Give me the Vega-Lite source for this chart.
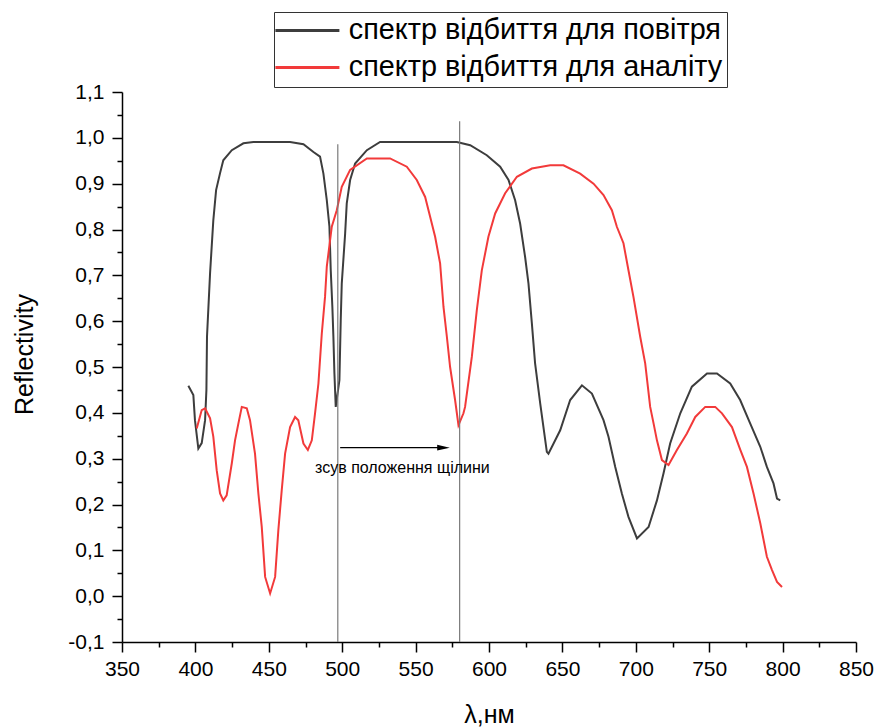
{
  "$schema": "https://vega.github.io/schema/vega-lite/v6.json",
  "width": 734,
  "height": 550,
  "autosize": {"type": "none"},
  "padding": {"left": 122, "top": 92, "right": 21, "bottom": 85},
  "background": "white",
  "config": {
    "font": "Liberation Sans",
    "view": {"stroke": null},
    "axis": {
      "grid": false,
      "domainColor": "#000000",
      "domainWidth": 1.5,
      "tickColor": "#000000",
      "tickWidth": 1.5,
      "labelColor": "#000000",
      "titleColor": "#000000",
      "labelFont": "Liberation Sans",
      "titleFont": "Liberation Sans"
    }
  },
  "datasets": {
    "spectra": [
      {"wl": 395.2, "r": 0.459, "series": "спектр відбиття для повітря"},
      {"wl": 398.6, "r": 0.439, "series": "спектр відбиття для повітря"},
      {"wl": 399.7, "r": 0.384, "series": "спектр відбиття для повітря"},
      {"wl": 402.0, "r": 0.322, "series": "спектр відбиття для повітря"},
      {"wl": 404.3, "r": 0.334, "series": "спектр відбиття для повітря"},
      {"wl": 406.6, "r": 0.384, "series": "спектр відбиття для повітря"},
      {"wl": 407.5, "r": 0.45, "series": "спектр відбиття для повітря"},
      {"wl": 407.9, "r": 0.566, "series": "спектр відбиття для повітря"},
      {"wl": 410.0, "r": 0.705, "series": "спектр відбиття для повітря"},
      {"wl": 412.2, "r": 0.82, "series": "спектр відбиття для повітря"},
      {"wl": 414.1, "r": 0.886, "series": "спектр відбиття для повітря"},
      {"wl": 416.8, "r": 0.923, "series": "спектр відбиття для повітря"},
      {"wl": 419.0, "r": 0.951, "series": "спектр відбиття для повітря"},
      {"wl": 424.8, "r": 0.973, "series": "спектр відбиття для повітря"},
      {"wl": 432.7, "r": 0.988, "series": "спектр відбиття для повітря"},
      {"wl": 439.5, "r": 0.991, "series": "спектр відбиття для повітря"},
      {"wl": 464.5, "r": 0.991, "series": "спектр відбиття для повітря"},
      {"wl": 473.6, "r": 0.986, "series": "спектр відбиття для повітря"},
      {"wl": 480.4, "r": 0.969, "series": "спектр відбиття для повітря"},
      {"wl": 484.9, "r": 0.959, "series": "спектр відбиття для повітря"},
      {"wl": 487.2, "r": 0.922, "series": "спектр відбиття для повітря"},
      {"wl": 489.5, "r": 0.864, "series": "спектр відбиття для повітря"},
      {"wl": 491.3, "r": 0.806, "series": "спектр відбиття для повітря"},
      {"wl": 492.2, "r": 0.711, "series": "спектр відбиття для повітря"},
      {"wl": 493.3, "r": 0.631, "series": "спектр відбиття для повітря"},
      {"wl": 494.0, "r": 0.566, "series": "спектр відбиття для повітря"},
      {"wl": 494.7, "r": 0.486, "series": "спектр відбиття для повітря"},
      {"wl": 495.6, "r": 0.413, "series": "спектр відбиття для повітря"},
      {"wl": 498.1, "r": 0.471, "series": "спектр відбиття для повітря"},
      {"wl": 499.0, "r": 0.602, "series": "спектр відбиття для повітря"},
      {"wl": 499.7, "r": 0.682, "series": "спектр відбиття для повітря"},
      {"wl": 502.0, "r": 0.791, "series": "спектр відбиття для повітря"},
      {"wl": 503.1, "r": 0.857, "series": "спектр відбиття для повітря"},
      {"wl": 505.4, "r": 0.908, "series": "спектр відбиття для повітря"},
      {"wl": 508.8, "r": 0.944, "series": "спектр відбиття для повітря"},
      {"wl": 516.8, "r": 0.973, "series": "спектр відбиття для повітря"},
      {"wl": 525.8, "r": 0.991, "series": "спектр відбиття для повітря"},
      {"wl": 578.1, "r": 0.991, "series": "спектр відбиття для повітря"},
      {"wl": 587.2, "r": 0.984, "series": "спектр відбиття для повітря"},
      {"wl": 598.5, "r": 0.962, "series": "спектр відбиття для повітря"},
      {"wl": 607.6, "r": 0.937, "series": "спектр відбиття для повітря"},
      {"wl": 613.3, "r": 0.908, "series": "спектр відбиття для повітря"},
      {"wl": 617.8, "r": 0.864, "series": "спектр відбиття для повітря"},
      {"wl": 621.2, "r": 0.813, "series": "спектр відбиття для повітря"},
      {"wl": 624.6, "r": 0.74, "series": "спектр відбиття для повітря"},
      {"wl": 626.9, "r": 0.682, "series": "спектр відбиття для повітря"},
      {"wl": 629.2, "r": 0.595, "series": "спектр відбиття для повітря"},
      {"wl": 631.4, "r": 0.508, "series": "спектр відбиття для повітря"},
      {"wl": 634.9, "r": 0.42, "series": "спектр відбиття для повітря"},
      {"wl": 639.4, "r": 0.315, "series": "спектр відбиття для повітря"},
      {"wl": 640.5, "r": 0.311, "series": "спектр відбиття для повітря"},
      {"wl": 648.5, "r": 0.362, "series": "спектр відбиття для повітря"},
      {"wl": 655.3, "r": 0.428, "series": "спектр відбиття для повітря"},
      {"wl": 663.3, "r": 0.46, "series": "спектр відбиття для повітря"},
      {"wl": 670.1, "r": 0.442, "series": "спектр відбиття для повітря"},
      {"wl": 678.0, "r": 0.384, "series": "спектр відбиття для повітря"},
      {"wl": 681.4, "r": 0.348, "series": "спектр відбиття для повітря"},
      {"wl": 686.0, "r": 0.282, "series": "спектр відбиття для повітря"},
      {"wl": 690.5, "r": 0.224, "series": "спектр відбиття для повітря"},
      {"wl": 695.0, "r": 0.173, "series": "спектр відбиття для повітря"},
      {"wl": 700.8, "r": 0.126, "series": "спектр відбиття для повітря"},
      {"wl": 708.7, "r": 0.151, "series": "спектр відбиття для повітря"},
      {"wl": 714.4, "r": 0.209, "series": "спектр відбиття для повітря"},
      {"wl": 718.9, "r": 0.268, "series": "спектр відбиття для повітря"},
      {"wl": 723.4, "r": 0.333, "series": "спектр відбиття для повітря"},
      {"wl": 730.3, "r": 0.399, "series": "спектр відбиття для повітря"},
      {"wl": 738.2, "r": 0.457, "series": "спектр відбиття для повітря"},
      {"wl": 748.5, "r": 0.486, "series": "спектр відбиття для повітря"},
      {"wl": 755.3, "r": 0.486, "series": "спектр відбиття для повітря"},
      {"wl": 764.3, "r": 0.464, "series": "спектр відбиття для повітря"},
      {"wl": 771.1, "r": 0.428, "series": "спектр відбиття для повітря"},
      {"wl": 777.9, "r": 0.377, "series": "спектр відбиття для повітря"},
      {"wl": 784.8, "r": 0.326, "series": "спектр відбиття для повітря"},
      {"wl": 789.3, "r": 0.282, "series": "спектр відбиття для повітря"},
      {"wl": 793.8, "r": 0.246, "series": "спектр відбиття для повітря"},
      {"wl": 796.2, "r": 0.213, "series": "спектр відбиття для повітря"},
      {"wl": 798.4, "r": 0.209, "series": "спектр відбиття для повітря"},

      {"wl": 400.9, "r": 0.366, "series": "спектр відбиття для аналіту"},
      {"wl": 404.3, "r": 0.406, "series": "спектр відбиття для аналіту"},
      {"wl": 406.6, "r": 0.41, "series": "спектр відбиття для аналіту"},
      {"wl": 410.0, "r": 0.388, "series": "спектр відбиття для аналіту"},
      {"wl": 412.2, "r": 0.348, "series": "спектр відбиття для аналіту"},
      {"wl": 414.5, "r": 0.275, "series": "спектр відбиття для аналіту"},
      {"wl": 416.8, "r": 0.224, "series": "спектр відбиття для аналіту"},
      {"wl": 419.0, "r": 0.209, "series": "спектр відбиття для аналіту"},
      {"wl": 421.3, "r": 0.22, "series": "спектр відбиття для аналіту"},
      {"wl": 424.8, "r": 0.29, "series": "спектр відбиття для аналіту"},
      {"wl": 427.0, "r": 0.34, "series": "спектр відбиття для аналіту"},
      {"wl": 429.3, "r": 0.377, "series": "спектр відбиття для аналіту"},
      {"wl": 431.6, "r": 0.413, "series": "спектр відбиття для аналіту"},
      {"wl": 435.0, "r": 0.41, "series": "спектр відбиття для аналіту"},
      {"wl": 437.2, "r": 0.384, "series": "спектр відбиття для аналіту"},
      {"wl": 440.6, "r": 0.311, "series": "спектр відбиття для аналіту"},
      {"wl": 442.9, "r": 0.224, "series": "спектр відбиття для аналіту"},
      {"wl": 445.2, "r": 0.151, "series": "спектр відбиття для аналіту"},
      {"wl": 447.5, "r": 0.042, "series": "спектр відбиття для аналіту"},
      {"wl": 450.9, "r": 0.006, "series": "спектр відбиття для аналіту"},
      {"wl": 454.3, "r": 0.042, "series": "спектр відбиття для аналіту"},
      {"wl": 456.5, "r": 0.144, "series": "спектр відбиття для аналіту"},
      {"wl": 458.8, "r": 0.231, "series": "спектр відбиття для аналіту"},
      {"wl": 461.1, "r": 0.311, "series": "спектр відбиття для аналіту"},
      {"wl": 464.5, "r": 0.369, "series": "спектр відбиття для аналіту"},
      {"wl": 467.9, "r": 0.391, "series": "спектр відбиття для аналіту"},
      {"wl": 470.1, "r": 0.384, "series": "спектр відбиття для аналіту"},
      {"wl": 473.6, "r": 0.333, "series": "спектр відбиття для аналіту"},
      {"wl": 476.6, "r": 0.319, "series": "спектр відбиття для аналіту"},
      {"wl": 479.3, "r": 0.34, "series": "спектр відбиття для аналіту"},
      {"wl": 481.5, "r": 0.399, "series": "спектр відбиття для аналіту"},
      {"wl": 483.8, "r": 0.464, "series": "спектр відбиття для аналіту"},
      {"wl": 486.1, "r": 0.573, "series": "спектр відбиття для аналіту"},
      {"wl": 488.3, "r": 0.653, "series": "спектр відбиття для аналіту"},
      {"wl": 489.5, "r": 0.719, "series": "спектр відбиття для аналіту"},
      {"wl": 492.9, "r": 0.806, "series": "спектр відбиття для аналіту"},
      {"wl": 496.3, "r": 0.842, "series": "спектр відбиття для аналіту"},
      {"wl": 499.7, "r": 0.893, "series": "спектр відбиття для аналіту"},
      {"wl": 505.4, "r": 0.93, "series": "спектр відбиття для аналіту"},
      {"wl": 516.8, "r": 0.955, "series": "спектр відбиття для аналіту"},
      {"wl": 532.6, "r": 0.955, "series": "спектр відбиття для аналіту"},
      {"wl": 544.0, "r": 0.937, "series": "спектр відбиття для аналіту"},
      {"wl": 550.8, "r": 0.908, "series": "спектр відбиття для аналіту"},
      {"wl": 556.5, "r": 0.871, "series": "спектр відбиття для аналіту"},
      {"wl": 559.9, "r": 0.828, "series": "спектр відбиття для аналіту"},
      {"wl": 563.3, "r": 0.784, "series": "спектр відбиття для аналіту"},
      {"wl": 566.7, "r": 0.726, "series": "спектр відбиття для аналіту"},
      {"wl": 569.0, "r": 0.631, "series": "спектр відбиття для аналіту"},
      {"wl": 571.3, "r": 0.566, "series": "спектр відбиття для аналіту"},
      {"wl": 573.5, "r": 0.5, "series": "спектр відбиття для аналіту"},
      {"wl": 576.9, "r": 0.428, "series": "спектр відбиття для аналіту"},
      {"wl": 579.2, "r": 0.373, "series": "спектр відбиття для аналіту"},
      {"wl": 582.6, "r": 0.399, "series": "спектр відбиття для аналіту"},
      {"wl": 583.7, "r": 0.413, "series": "спектр відбиття для аналіту"},
      {"wl": 588.3, "r": 0.522, "series": "спектр відбиття для аналіту"},
      {"wl": 591.7, "r": 0.624, "series": "спектр відбиття для аналіту"},
      {"wl": 595.1, "r": 0.711, "series": "спектр відбиття для аналіту"},
      {"wl": 599.6, "r": 0.784, "series": "спектр відбиття для аналіту"},
      {"wl": 604.2, "r": 0.835, "series": "спектр відбиття для аналіту"},
      {"wl": 611.0, "r": 0.879, "series": "спектр відбиття для аналіту"},
      {"wl": 619.0, "r": 0.915, "series": "спектр відбиття для аналіту"},
      {"wl": 629.2, "r": 0.933, "series": "спектр відбиття для аналіту"},
      {"wl": 641.7, "r": 0.94, "series": "спектр відбиття для аналіту"},
      {"wl": 650.7, "r": 0.94, "series": "спектр відбиття для аналіту"},
      {"wl": 662.1, "r": 0.922, "series": "спектр відбиття для аналіту"},
      {"wl": 671.2, "r": 0.9, "series": "спектр відбиття для аналіту"},
      {"wl": 678.0, "r": 0.875, "series": "спектр відбиття для аналіту"},
      {"wl": 683.7, "r": 0.842, "series": "спектр відбиття для аналіту"},
      {"wl": 687.1, "r": 0.806, "series": "спектр відбиття для аналіту"},
      {"wl": 691.6, "r": 0.77, "series": "спектр відбиття для аналіту"},
      {"wl": 695.0, "r": 0.711, "series": "спектр відбиття для аналіту"},
      {"wl": 698.4, "r": 0.653, "series": "спектр відбиття для аналіту"},
      {"wl": 703.0, "r": 0.566, "series": "спектр відбиття для аналіту"},
      {"wl": 706.4, "r": 0.508, "series": "спектр відбиття для аналіту"},
      {"wl": 709.8, "r": 0.413, "series": "спектр відбиття для аналіту"},
      {"wl": 712.1, "r": 0.377, "series": "спектр відбиття для аналіту"},
      {"wl": 714.4, "r": 0.34, "series": "спектр відбиття для аналіту"},
      {"wl": 717.8, "r": 0.297, "series": "спектр відбиття для аналіту"},
      {"wl": 722.3, "r": 0.286, "series": "спектр відбиття для аналіту"},
      {"wl": 728.0, "r": 0.319, "series": "спектр відбиття для аналіту"},
      {"wl": 734.8, "r": 0.355, "series": "спектр відбиття для аналіту"},
      {"wl": 740.5, "r": 0.391, "series": "спектр відбиття для аналіту"},
      {"wl": 747.3, "r": 0.413, "series": "спектр відбиття для аналіту"},
      {"wl": 754.1, "r": 0.413, "series": "спектр відбиття для аналіту"},
      {"wl": 758.7, "r": 0.399, "series": "спектр відбиття для аналіту"},
      {"wl": 765.5, "r": 0.369, "series": "спектр відбиття для аналіту"},
      {"wl": 771.2, "r": 0.319, "series": "спектр відбиття для аналіту"},
      {"wl": 775.7, "r": 0.282, "series": "спектр відбиття для аналіту"},
      {"wl": 780.2, "r": 0.224, "series": "спектр відбиття для аналіту"},
      {"wl": 784.8, "r": 0.159, "series": "спектр відбиття для аналіту"},
      {"wl": 789.3, "r": 0.086, "series": "спектр відбиття для аналіту"},
      {"wl": 792.8, "r": 0.057, "series": "спектр відбиття для аналіту"},
      {"wl": 796.2, "r": 0.031, "series": "спектр відбиття для аналіту"},
      {"wl": 799.6, "r": 0.02, "series": "спектр відбиття для аналіту"}
    ],
    "gaps": [
      {"wl": 497, "top": 0.986},
      {"wl": 580, "top": 1.036}
    ],
    "shift": [
      {"from": 498.6, "to": 566, "head": 569, "r": 0.324}
    ],
    "note": [
      {"wl": 541, "r": 0.279, "label": "зсув положення щілини"}
    ]
  },
  "layer": [
    {
      "data": {"name": "spectra"},
      "mark": {"type": "line", "strokeWidth": 2, "interpolate": "linear"},
      "encoding": {
        "x": {
          "field": "wl", "type": "quantitative",
          "scale": {"domain": [350, 850], "nice": false, "zero": false},
          "axis": {
            "orient": "bottom",
            "values": [350, 400, 450, 500, 550, 600, 650, 700, 750, 800, 850],
            "tickSize": 10, "labelFontSize": 21, "labelPadding": 6,
            "labelFlush": false, "labelOverlap": false,
            "title": "λ,нм", "titleFontSize": 25, "titleFontWeight": "normal",
            "titleBaseline": "alphabetic", "titleY": 80
          }
        },
        "y": {
          "field": "r", "type": "quantitative",
          "scale": {"domain": [-0.1, 1.1], "nice": false, "zero": false},
          "axis": {
            "orient": "left",
            "values": [-0.1, 0, 0.1, 0.2, 0.3, 0.4, 0.5, 0.6, 0.7, 0.8, 0.9, 1.0, 1.1],
            "labelExpr": "(datum.value < 0 ? '-' : '') + replace(format(abs(datum.value), '.1f'), '.', ',')",
            "tickSize": 10, "labelFontSize": 21, "labelPadding": 8,
            "labelFlush": false, "labelOverlap": false,
            "title": "Reflectivity", "titleFontSize": 25, "titleFontWeight": "normal",
            "titleAngle": -90, "titleBaseline": "alphabetic", "titleAlign": "center",
            "titleX": -90, "titleY": 262
          }
        },
        "color": {
          "field": "series", "type": "nominal",
          "scale": {
            "domain": ["спектр відбиття для повітря", "спектр відбиття для аналіту"],
            "range": ["#3d3d3d", "#f23a3a"]
          },
          "legend": {
            "orient": "none", "legendX": 152, "legendY": -80,
            "title": null, "symbolType": "M-2.125,0L5.875,0", "symbolSize": 256,
            "symbolStrokeWidth": 3, "labelFontSize": 28.8, "labelOffset": 42,
            "labelColor": "#000000", "rowPadding": 7, "padding": 4,
            "strokeColor": "#333333", "fillColor": "white", "labelLimit": 600
          }
        }
      }
    },
    {
      "data": {"name": "gaps"},
      "mark": {"type": "rule", "color": "#7a7a7a", "strokeWidth": 1.2},
      "encoding": {
        "x": {
          "field": "wl", "type": "quantitative",
          "axis": {
            "orient": "bottom", "values": [375, 425, 475, 525, 575, 625, 675, 725, 775, 825],
            "labels": false, "domain": false, "tickSize": 5, "title": null
          }
        },
        "y": {
          "field": "top", "type": "quantitative",
          "axis": {
            "orient": "left",
            "values": [-0.05, 0.05, 0.15, 0.25, 0.35, 0.45, 0.55, 0.65, 0.75, 0.85, 0.95, 1.05],
            "labels": false, "domain": false, "tickSize": 5, "title": null
          }
        },
        "y2": {"datum": -0.1}
      }
    },
    {
      "data": {"name": "shift"},
      "mark": {"type": "rule", "color": "#000000", "strokeWidth": 1.2},
      "encoding": {
        "x": {"field": "from", "type": "quantitative", "axis": null},
        "x2": {"field": "to"},
        "y": {"field": "r", "type": "quantitative", "axis": null}
      }
    },
    {
      "data": {"name": "shift"},
      "mark": {"type": "point", "shape": "M-1,-0.45L1,0L-1,0.45Z", "filled": true, "color": "#000000", "opacity": 1, "size": 160},
      "encoding": {
        "x": {"field": "head", "type": "quantitative", "axis": null},
        "y": {"field": "r", "type": "quantitative", "axis": null}
      }
    },
    {
      "data": {"name": "note"},
      "mark": {"type": "text", "fontSize": 16, "color": "#000000", "align": "center", "baseline": "middle"},
      "encoding": {
        "x": {"field": "wl", "type": "quantitative", "axis": null},
        "y": {"field": "r", "type": "quantitative", "axis": null},
        "text": {"field": "label"}
      }
    }
  ],
  "resolve": {"axis": {"x": "independent", "y": "independent"}}
}
